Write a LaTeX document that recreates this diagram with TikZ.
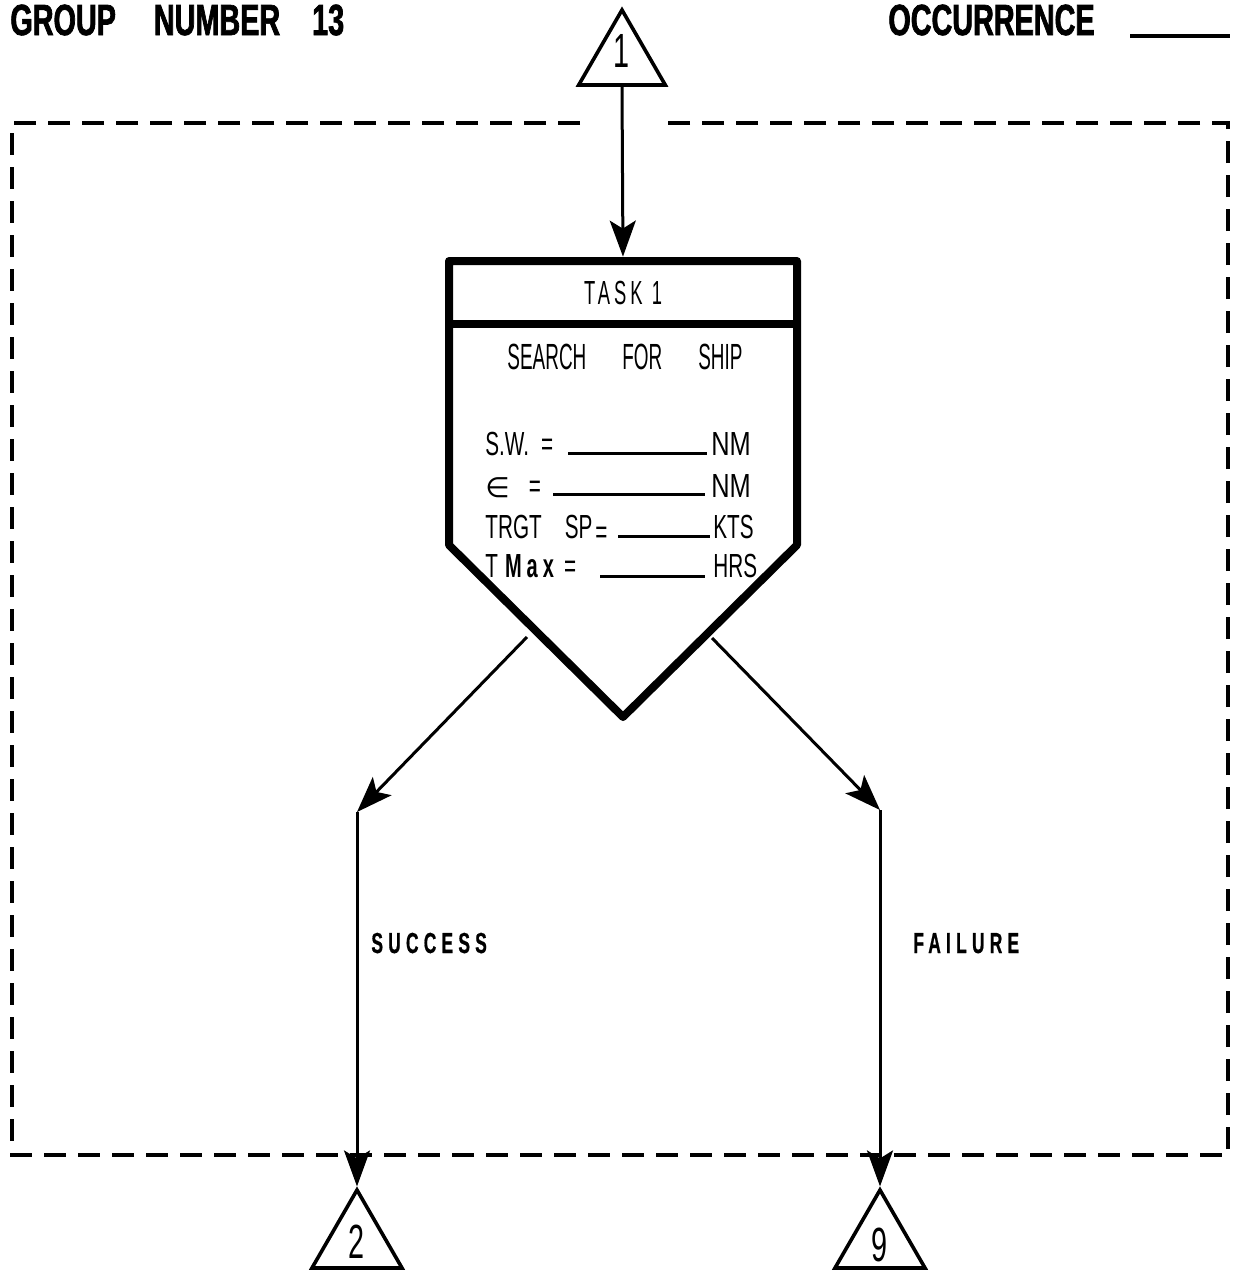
\documentclass[tikz,border=0pt]{standalone}
\usepackage{fontspec}
\setmainfont{Liberation Sans}
\newfontfamily\hdrfont[FakeStretch=0.66,FakeBold=1.6,UprightFont={* Bold}]{Liberation Sans}
\newfontfamily\srchfont[FakeStretch=0.52]{Liberation Sans}
\newfontfamily\fieldfont[FakeStretch=0.62]{Liberation Sans}
\newfontfamily\unitfont[FakeStretch=0.76]{Liberation Sans}
\newfontfamily\taskfont[FakeStretch=0.55,LetterSpace=12]{Liberation Sans}
\newfontfamily\labfont[FakeStretch=0.6,LetterSpace=18,FakeBold=0.6,UprightFont={* Bold}]{Liberation Sans}
\newfontfamily\maxfont[FakeStretch=0.6,LetterSpace=15,UprightFont={* Bold}]{Liberation Sans}
\newfontfamily\numfont[FakeStretch=0.6]{Liberation Sans}
\newfontfamily\symfont{DejaVu Sans}
\usetikzlibrary{arrows.meta,shapes.geometric}
\tikzset{
  tri/.style={draw, line width=1.8pt, regular polygon, regular polygon sides=3,
    inner sep=0pt, font=\numfont\fontsize{24}{24}\selectfont},
  arr/.style={line width=1.5pt, -{Stealth[length=18pt,width=13pt,inset=4pt]}},
  frame/.style={line width=2.2pt, dash pattern=on 11pt off 6pt},
  boxline/.style={line width=4pt, line join=round},
  uline/.style={line width=1.5pt},
  txt/.style={anchor=base west, inner sep=0pt},
  hdr/.style={txt, font=\hdrfont\fontsize{21.8}{22}\selectfont},
  fld/.style={txt, font=\fieldfont\fontsize{16.7}{17}\selectfont},
  unit/.style={txt, font=\unitfont\fontsize{16.7}{17}\selectfont},
  lab/.style={txt, font=\labfont\fontsize{14.5}{15}\selectfont}
}
\begin{document}
\begin{tikzpicture}[x=0.5pt,y=-0.5pt]
\useasboundingbox (0,0) rectangle (1235,1271);
\fill[white] (0,0) rectangle (1235,1271);

% header
\node[hdr] (group) at (10,35) {GROUP\hspace{19pt}NUMBER\hspace{16pt}13};
\node[hdr] (occ) at (888,35) {OCCURRENCE};
\draw[line width=2pt] (1130,36) -- (1230,36);

% dashed frame
\draw[frame] (580,123) -- (12,123) -- (12,1155) -- (1228,1155) -- (1228,123) -- (667,123);

% triangles
\node[tri, minimum size=50pt] (t1) at (622,60) {\raisebox{4.5pt}[\height][\depth]{1}};
\node[tri, minimum size=52pt] (t2) at (357,1242) {2};
\node[tri, minimum size=52pt] (t9) at (880,1242) {\raisebox{-1.5pt}[\height][\depth]{9}};

% task box
\draw[boxline] (449,261) -- (797,261) -- (797,545) -- (623,717) -- (449,545) -- cycle;
\draw[boxline] (449,324) -- (797,324);
\node[minimum width=174pt, minimum height=31.5pt, inner sep=0pt,
  font=\taskfont\fontsize{16.7}{17}\selectfont] (task) at (623,292.5) {TASK 1};
\node[anchor=base, inner sep=0pt, font=\srchfont\fontsize{18.2}{18}\selectfont] (search)
  at (625,369) {SEARCH\hspace{18pt}FOR\hspace{18pt}SHIP};

% fields
\node[fld] (sw) at (485,455) {S.W.\hspace{6pt}=};
\draw[uline] (568,453) -- (707,453);
\node[unit] (swu) at (711,455) {NM};

\node[fld] (eps) at (485,497) {{\symfont\fontsize{14}{14}\selectfont ∈}\hspace{9.5pt}=};
\draw[uline] (553,494) -- (705,494);
\node[unit] (epsu) at (711,497) {NM};

\node[fld] (trgt) at (485,538) {TRGT\hspace{11.5pt}SP\hspace{1.5pt}\raisebox{-2.5pt}{=}};
\draw[uline] (618,536) -- (710,536);
\node[fld] (trgtu) at (713,538) {KTS};

\node[fld] (tmax) at (485,577) {T\hspace{3.5pt}{\maxfont Max}\hspace{5pt}=};
\draw[uline] (600,576) -- (705,576);
\node[fld] (tmaxu) at (713,577) {HRS};

% connectors
\coordinate (ls) at (527,637);
\coordinate (lb) at (357,812);
\coordinate (rs) at (712,638);
\coordinate (rb) at (880,810);

\draw[arr, shorten >=2pt] (t1.side 2) -- (task.north);
\draw[arr] (ls) -- (lb);
\draw[arr] (lb) -- (t2.corner 1);
\draw[arr] (rs) -- (rb);
\draw[arr] (rb) -- (t9.corner 1);

% labels
\node[lab] (succ) at (371,953) {SUCCESS};
\node[lab] (fail) at (913,953) {FAILURE};
\end{tikzpicture}
\end{document}
